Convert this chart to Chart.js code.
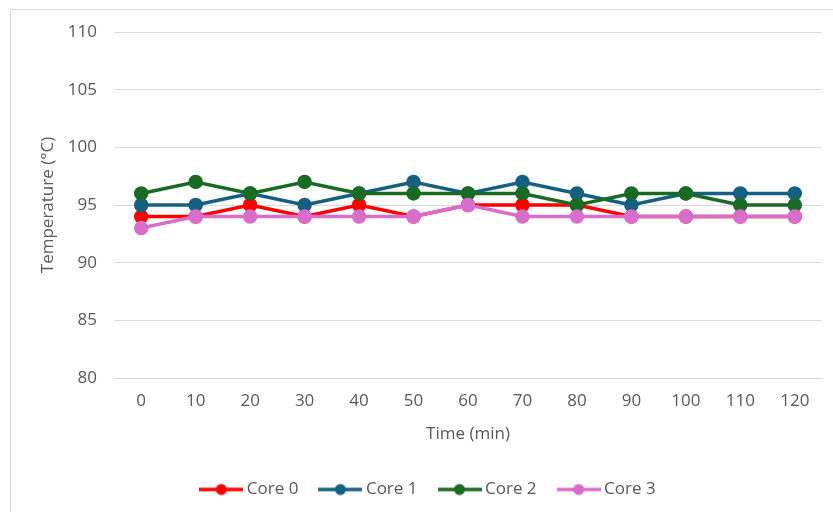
<!DOCTYPE html>
<html>
<head>
<meta charset="utf-8">
<script src="https://cdn.jsdelivr.net/npm/chart.js@4.4.1/dist/chart.umd.min.js"></script>
<style>
  html, body { margin: 0; padding: 0; background: #ffffff; overflow: hidden; }
  #wrap { position: relative; width: 833px; height: 512px; overflow: hidden; }
  #frame { position: absolute; left: 10px; top: 9px; width: 900px; height: 600px;
           border-left: 1px solid #d9d9d9; border-top: 1px solid #d9d9d9; }
  #chart { position: absolute; left: 0; top: 0; }
</style>
</head>
<body>
<div id="wrap">
  <div id="frame"></div>
  <canvas id="chart" width="833" height="508"></canvas>
</div>
<script>
// Sampling times (minutes)
const times = ['0', '10', '20', '30', '40', '50', '60', '70', '80', '90', '100', '110', '120'];

// Core temperatures (°C)
const core0 = [94, 94, 95, 94, 95, 94, 95, 95, 95, 94, 94, 94, 94];
const core1 = [95, 95, 96, 95, 96, 97, 96, 97, 96, 95, 96, 96, 96];
const core2 = [96, 97, 96, 97, 96, 96, 96, 96, 95, 96, 96, 95, 95];
const core3 = [93, 94, 94, 94, 94, 94, 95, 94, 94, 94, 94, 94, 94];

const seriesNames = ['Core 0', 'Core 1', 'Core 2', 'Core 3'];
const seriesColors = ['#FF0000', '#156082', '#196B24', '#D86ECC'];

// Temperature axis range
const yMin = 80, yMax = 110, yStep = 5;

const textColor = '#595959';
const gridColor = '#d9d9d9';
const fontFamily = "'Open Sans', 'Liberation Sans', sans-serif";

// Legend swatch: a short line with a marker in the middle
function legendSwatch(color) {
  const c = document.createElement('canvas');
  c.width = 44; c.height = 14;
  const g = c.getContext('2d');
  g.strokeStyle = color;
  g.lineWidth = 3.5;
  g.beginPath(); g.moveTo(0, 7); g.lineTo(44, 7); g.stroke();
  g.fillStyle = color;
  g.beginPath(); g.arc(22, 7, 5.5, 0, Math.PI * 2); g.fill();
  return c;
}

const values = [core0, core1, core2, core3];
const datasets = values.map((v, i) => ({
  label: seriesNames[i],
  data: v,
  borderColor: seriesColors[i],
  backgroundColor: seriesColors[i],
  pointBackgroundColor: seriesColors[i],
  pointBorderColor: seriesColors[i],
  borderWidth: 3.5,
  pointRadius: 5.5,
  pointHoverRadius: 5.5,
  tension: 0,
  pointStyle: 'circle',
  order: values.length - 1 - i,
  swatch: legendSwatch(seriesColors[i])
}));

new Chart(document.getElementById('chart'), {
  type: 'line',
  data: { labels: times, datasets: datasets },
  options: {
    responsive: false,
    animation: false,
    devicePixelRatio: 1,
    layout: { padding: { left: 38, top: 32, right: 11, bottom: 0 } },
    plugins: {
      tooltip: { enabled: false },
      legend: {
        position: 'bottom',
        labels: {
          usePointStyle: true,
          pointStyleWidth: 34,
          padding: 25,
          color: textColor,
          font: { family: fontFamily, size: 17 },
          generateLabels(chart) {
            return chart.data.datasets.map((ds, i) => ({
              text: ds.label,
              fillStyle: ds.borderColor,
              strokeStyle: ds.borderColor,
              fontColor: textColor,
              lineWidth: 0,
              pointStyle: ds.swatch,
              hidden: false,
              datasetIndex: i
            }));
          }
        }
      }
    },
    scales: {
      x: {
        offset: true,
        grid: { display: false, drawTicks: false },
        border: { display: true, color: gridColor, width: 1 },
        ticks: { color: textColor, font: { family: fontFamily, size: 17 }, padding: 13, maxRotation: 0 },
        title: {
          display: true, text: 'Time (min)', color: textColor,
          font: { family: fontFamily, size: 17 },
          padding: { top: 0, bottom: 12 }
        },
        afterFit(scale) { scale.height = 78; }
      },
      y: {
        min: yMin, max: yMax,
        grid: { color: gridColor, lineWidth: 1, drawTicks: false },
        border: { display: false },
        ticks: { stepSize: yStep, color: textColor, font: { family: fontFamily, size: 17 }, padding: 17 },
        title: {
          display: true, text: 'Temperature (°C)', color: textColor,
          font: { family: fontFamily, size: 17 },
          padding: { top: 0, bottom: 0 }
        },
        afterFit(scale) { scale.width = 76; }
      }
    }
  }
});
</script>
</body>
</html>
